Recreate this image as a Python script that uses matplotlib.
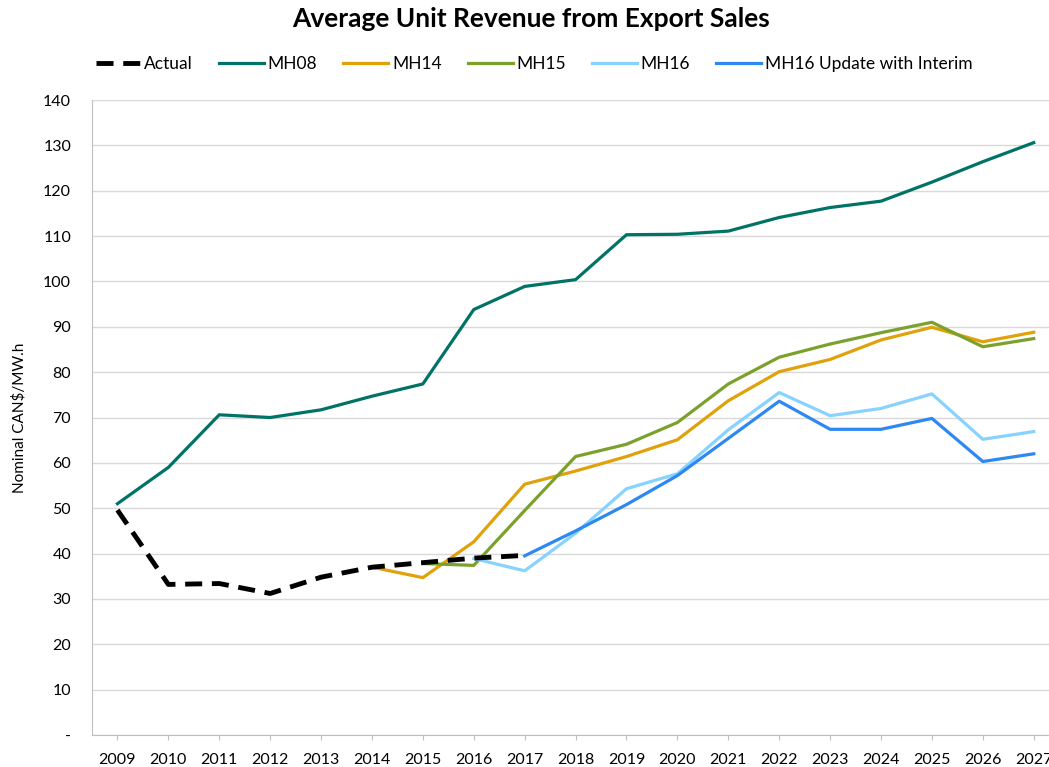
import numpy as np
import matplotlib.pyplot as plt

years = list(range(2009, 2028))

actual = [49.6, 33.2, 33.4, 31.2, 34.8, 37.0, 38.0, 39.0, 39.6]
mh08 = [51.0, 59.0, 70.6, 70.0, 71.7, 74.7, 77.4, 93.8, 98.9, 100.4, 110.3,
        110.4, 111.1, 114.1, 116.3, 117.7, 121.9, 126.4, 130.6]
mh14 = [37.0, 34.7, 42.6, 55.3, 58.2, 61.4, 65.1, 73.7, 80.1, 82.8, 87.1,
        89.9, 86.7, 88.8]
mh15 = [37.8, 37.4, 49.5, 61.4, 64.1, 68.9, 77.4, 83.3, 86.2, 88.7, 91.0,
        85.6, 87.4]
mh16 = [38.9, 36.2, 44.5, 54.3, 57.6, 67.3, 75.5, 70.4, 72.0, 75.2, 65.2, 66.9]
mh16_upd = [39.5, 45.0, 50.8, 57.2, 65.4, 73.6, 67.4, 67.4, 69.8, 60.3, 62.0]

plt.rcParams['font.family'] = ['Lato', 'DejaVu Sans']

fig = plt.figure(figsize=(10.49, 7.67), dpi=100)
ax = fig.add_axes([0.0877, 0.0417, 0.922, 0.8279])

x = np.arange(len(years))
ax.plot(x[:len(actual)], actual, color='black', lw=3.5, ls=(0, (3.5, 2)), label='Actual', zorder=6)
ax.plot(x, mh08, color='#007366', lw=2.3, label='MH08')
ax.plot(x[5:], mh14, color='#E0A10B', lw=2.3, label='MH14')
ax.plot(x[6:], mh15, color='#7BA12A', lw=2.3, label='MH15')
ax.plot(x[7:], mh16, color='#87D2FF', lw=2.3, label='MH16')
ax.plot(x[8:], mh16_upd, color='#2E88F2', lw=2.3, label='MH16 Update with Interim')

ax.set_xlim(-0.5, 18.5)
ax.set_ylim(0, 140)
ax.set_xticks(x)
ax.set_xticklabels([str(y) for y in years], fontsize=11.5)
ax.set_yticks(range(0, 141, 10))
ax.set_yticklabels(['-'] + [str(v) for v in range(10, 141, 10)], fontsize=11.5)
ax.tick_params(axis='y', length=0, pad=15)
ax.tick_params(axis='x', length=3.6, color='#BFBFBF', pad=9)
ax.grid(axis='y', color='#D9D9D9', lw=1)
ax.set_axisbelow(True)
for s in ['top', 'right']:
    ax.spines[s].set_visible(False)
for s in ['left', 'bottom']:
    ax.spines[s].set_color('#BFBFBF')
ax.set_ylabel('Nominal CAN$/MW.h', fontsize=11, labelpad=12)

fig.text(0.506, 0.975, 'Average Unit Revenue from Export Sales', ha='center', va='center',
         fontsize=19, fontweight='bold')
fig.legend(loc='center', bbox_to_anchor=(0.509, 0.917), ncol=6, frameon=False,
           fontsize=12.5, handlelength=2.6, columnspacing=1.5, handletextpad=0.2)

fig.savefig('out.png', dpi=100)
